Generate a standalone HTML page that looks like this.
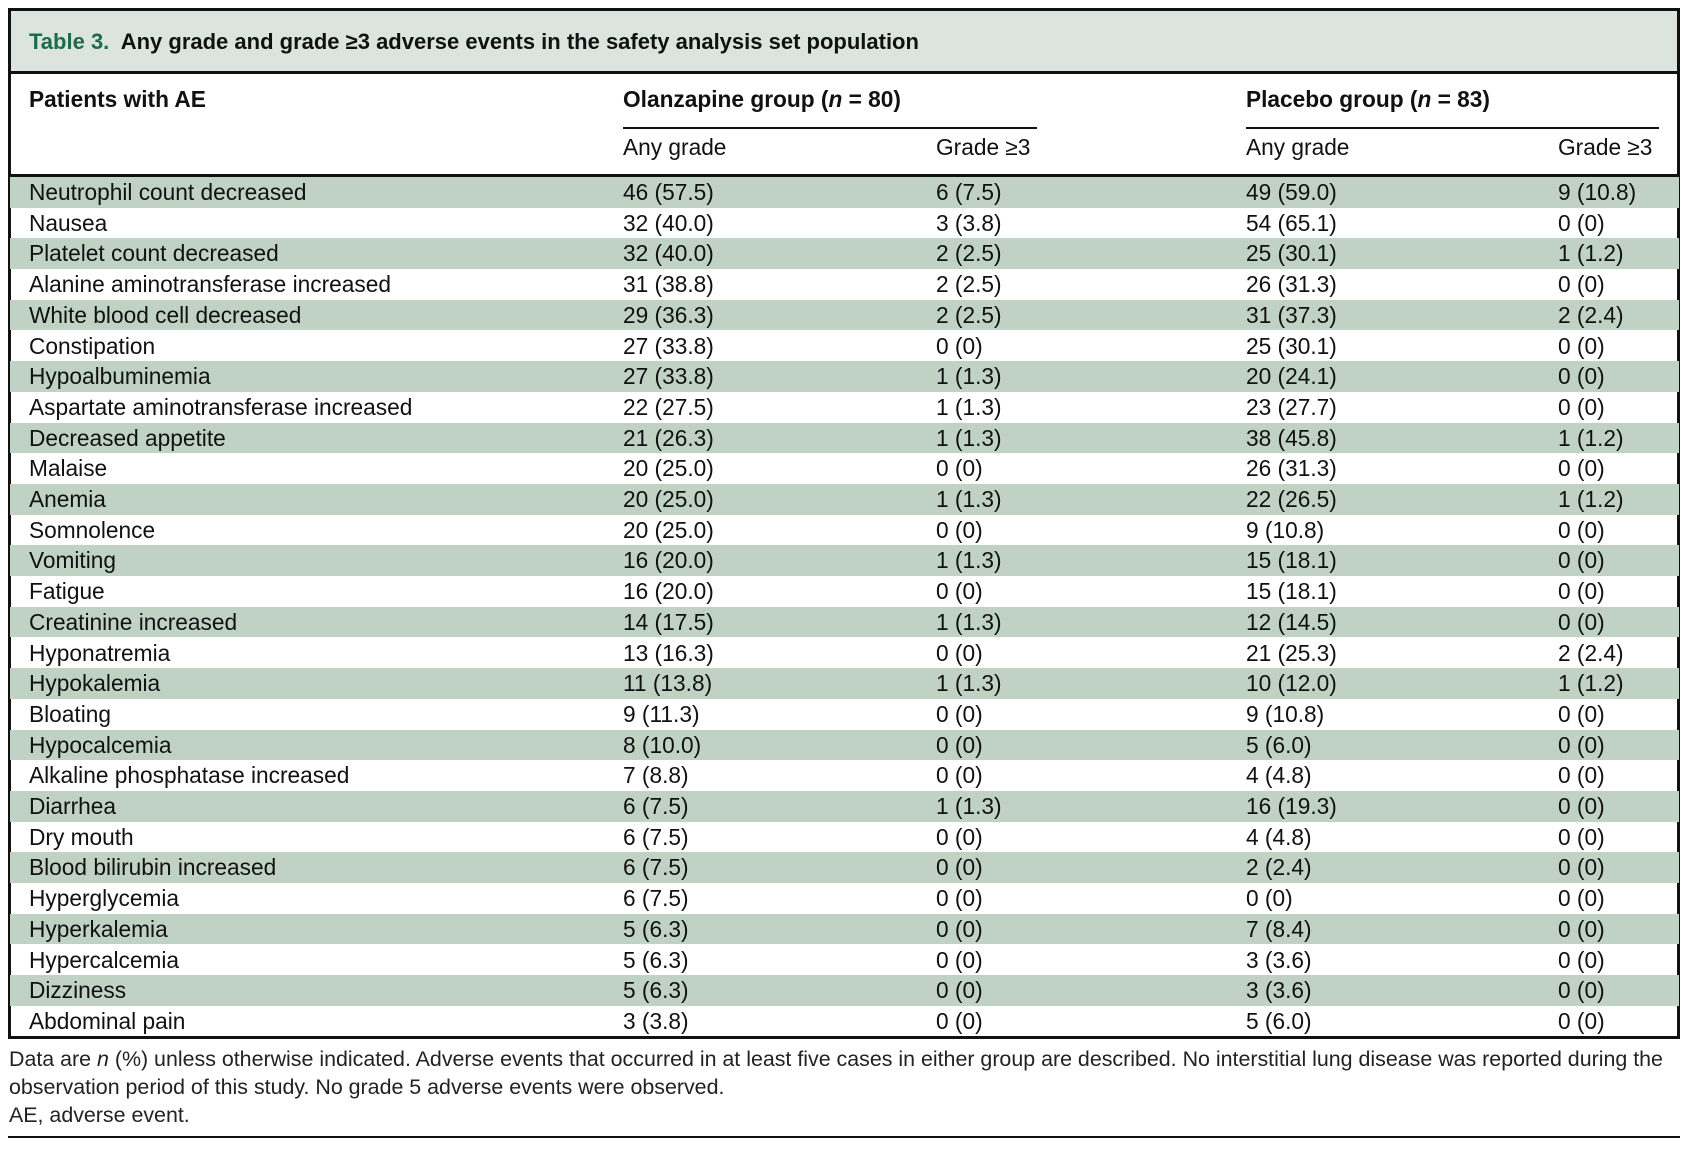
<!DOCTYPE html>
<html><head><meta charset="utf-8"><style>
body{margin:0;width:1691px;height:1149px;background:#fff;position:relative;font-family:"Liberation Sans",sans-serif;color:#111;overflow:hidden}
.a{position:absolute;white-space:nowrap}
.t{font-size:22.7px}
.b{font-weight:bold}
.row{position:absolute;left:10px;width:1669px;height:30.7px}
.sh{background:#bfd2c4}
</style></head><body>
<div class="a" style="left:8px;top:8px;width:1672px;height:64px;background:#dbe5de;border-top:3px solid #111;border-left:3px solid #111;border-right:3px solid #111;box-sizing:border-box"></div>
<div class="a b" style="left:29px;top:29px;font-size:22px"><span style="color:#1e6a4c">Table 3.</span>&nbsp; Any grade and grade ≥3 adverse events in the safety analysis set population</div>
<div class="a" style="left:8px;top:71px;width:1672px;height:3px;background:#111"></div>
<div class="a" style="left:8px;top:71px;width:3px;height:967px;background:#111"></div>
<div class="a" style="left:1677px;top:71px;width:3px;height:967px;background:#111"></div>
<div class="a b t" style="left:29px;top:86px">Patients with AE</div>
<div class="a b t" style="left:623px;top:86px">Olanzapine group (<i>n</i> = 80)</div>
<div class="a b t" style="left:1246px;top:86px">Placebo group (<i>n</i> = 83)</div>
<div class="a" style="left:623px;top:127px;width:414px;height:2px;background:#111"></div>
<div class="a" style="left:1246px;top:127px;width:413px;height:2px;background:#111"></div>
<div class="a t" style="left:623px;top:134px">Any grade</div>
<div class="a t" style="left:936px;top:134px">Grade ≥3</div>
<div class="a t" style="left:1246px;top:134px">Any grade</div>
<div class="a t" style="left:1558px;top:134px">Grade ≥3</div>
<div class="a" style="left:8px;top:174px;width:1672px;height:3px;background:#111"></div>
<div id="rows"></div>
<div class="a" style="left:8px;top:1036px;width:1672px;height:3px;background:#111"></div>
<div class="a" style="left:9px;top:1045px;font-size:21.4px;line-height:28px;color:#222">Data are <i>n</i> (%) unless otherwise indicated. Adverse events that occurred in at least five cases in either group are described. No interstitial lung disease was reported during the<br>observation period of this study. No grade 5 adverse events were observed.<br>AE, adverse event.</div>
<div class="a" style="left:8px;top:1136px;width:1672px;height:2px;background:#111"></div>
<script>
var d=[["Neutrophil count decreased","46 (57.5)","6 (7.5)","49 (59.0)","9 (10.8)"],["Nausea","32 (40.0)","3 (3.8)","54 (65.1)","0 (0)"],["Platelet count decreased","32 (40.0)","2 (2.5)","25 (30.1)","1 (1.2)"],["Alanine aminotransferase increased","31 (38.8)","2 (2.5)","26 (31.3)","0 (0)"],["White blood cell decreased","29 (36.3)","2 (2.5)","31 (37.3)","2 (2.4)"],["Constipation","27 (33.8)","0 (0)","25 (30.1)","0 (0)"],["Hypoalbuminemia","27 (33.8)","1 (1.3)","20 (24.1)","0 (0)"],["Aspartate aminotransferase increased","22 (27.5)","1 (1.3)","23 (27.7)","0 (0)"],["Decreased appetite","21 (26.3)","1 (1.3)","38 (45.8)","1 (1.2)"],["Malaise","20 (25.0)","0 (0)","26 (31.3)","0 (0)"],["Anemia","20 (25.0)","1 (1.3)","22 (26.5)","1 (1.2)"],["Somnolence","20 (25.0)","0 (0)","9 (10.8)","0 (0)"],["Vomiting","16 (20.0)","1 (1.3)","15 (18.1)","0 (0)"],["Fatigue","16 (20.0)","0 (0)","15 (18.1)","0 (0)"],["Creatinine increased","14 (17.5)","1 (1.3)","12 (14.5)","0 (0)"],["Hyponatremia","13 (16.3)","0 (0)","21 (25.3)","2 (2.4)"],["Hypokalemia","11 (13.8)","1 (1.3)","10 (12.0)","1 (1.2)"],["Bloating","9 (11.3)","0 (0)","9 (10.8)","0 (0)"],["Hypocalcemia","8 (10.0)","0 (0)","5 (6.0)","0 (0)"],["Alkaline phosphatase increased","7 (8.8)","0 (0)","4 (4.8)","0 (0)"],["Diarrhea","6 (7.5)","1 (1.3)","16 (19.3)","0 (0)"],["Dry mouth","6 (7.5)","0 (0)","4 (4.8)","0 (0)"],["Blood bilirubin increased","6 (7.5)","0 (0)","2 (2.4)","0 (0)"],["Hyperglycemia","6 (7.5)","0 (0)","0 (0)","0 (0)"],["Hyperkalemia","5 (6.3)","0 (0)","7 (8.4)","0 (0)"],["Hypercalcemia","5 (6.3)","0 (0)","3 (3.6)","0 (0)"],["Dizziness","5 (6.3)","0 (0)","3 (3.6)","0 (0)"],["Abdominal pain","3 (3.8)","0 (0)","5 (6.0)","0 (0)"]];
var xs=[29,623,936,1246,1558],h="";
d.forEach(function(r,i){var top=177+i*30.7;
h+='<div class="row'+(i%2==0?' sh':'')+'" style="top:'+top+'px"></div>';
r.forEach(function(c,j){h+='<div class="a t" style="left:'+xs[j]+'px;top:'+(top+2)+'px">'+c+'</div>';});});
document.getElementById("rows").outerHTML=h;
</script>
</body></html>
